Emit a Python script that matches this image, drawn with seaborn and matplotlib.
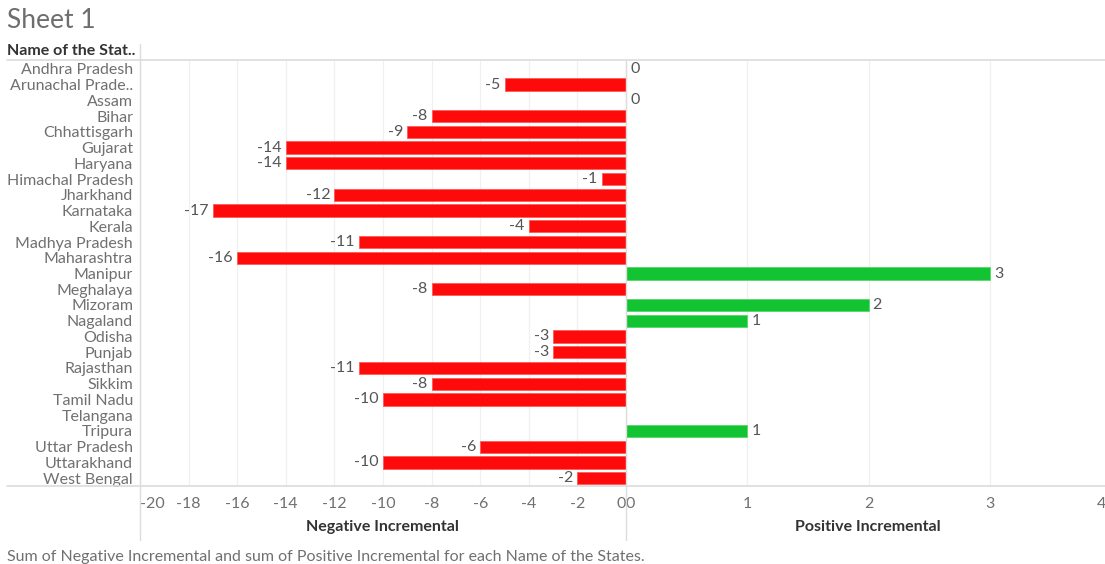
import numpy as np
import pandas as pd
import matplotlib
matplotlib.use("Agg")
import matplotlib.pyplot as plt
import seaborn as sns

states = ["Andhra Pradesh", "Arunachal Prade..", "Assam", "Bihar", "Chhattisgarh",
          "Gujarat", "Haryana", "Himachal Pradesh", "Jharkhand", "Karnataka", "Kerala",
          "Madhya Pradesh", "Maharashtra", "Manipur", "Meghalaya", "Mizoram", "Nagaland",
          "Odisha", "Punjab", "Rajasthan", "Sikkim", "Tamil Nadu", "Telangana", "Tripura",
          "Uttar Pradesh", "Uttarakhand", "West Bengal"]
nan = np.nan
negative = [nan, -5, nan, -8, -9, -14, -14, -1, -12, -17, -4, -11, -16, nan, -8, nan, nan,
            -3, -3, -11, -8, -10, nan, nan, -6, -10, -2]
positive = [0, nan, 0, nan, nan, nan, nan, nan, nan, nan, nan, nan, nan, 3, nan, 2, 1,
            nan, nan, nan, nan, nan, nan, 1, nan, nan, nan]
neg_ticks = list(range(-20, 1, 2))
pos_ticks = [0, 1, 2, 3, 4]

sns.set_theme(style="white")
FONT = ["Lato", "DejaVu Sans"]
plt.rcParams["font.family"] = FONT

W, H = 1105, 564
fig = plt.figure(figsize=(W / 100, H / 100), dpi=100)

def fx(px):
    return px / W

def fy(py):
    return 1 - py / H

top, bot = 61, 486
xl, xm, xr = 140, 626, 1111
ax1 = fig.add_axes([fx(xl), fy(bot), fx(xm - xl), fy(top) - fy(bot)])
ax2 = fig.add_axes([fx(xm), fy(bot), fx(xr - xm), fy(top) - fy(bot)])

df = pd.DataFrame({"state": states, "neg": negative, "pos": positive})
RED = "#FF0A0A"
GREEN = "#12C431"
GRID = "#F0F0F0"
LBL = "#707070"
FS = 11.5

sns.barplot(data=df, x="neg", y="state", order=states, ax=ax1, color=RED,
            width=0.78, edgecolor="#FF5A5A", linewidth=0.6, saturation=1, orient="h")
sns.barplot(data=df, x="pos", y="state", order=states, ax=ax2, color=GREEN,
            width=0.78, edgecolor="#55D86A", linewidth=0.6, saturation=1, orient="h")

n = len(states)
for ax in (ax1, ax2):
    ax.set_ylim(n - 0.5, -0.5)
    for s in ax.spines.values():
        s.set_visible(False)
    ax.set_xlabel("")
    ax.set_ylabel("")
    ax.tick_params(length=0)

ax1.set_xlim(-20, 0)
ax2.set_xlim(0, 4)
for t in neg_ticks:
    ax1.axvline(t, color=GRID, lw=0.9, zorder=0)
for t in pos_ticks:
    ax2.axvline(t, color=GRID, lw=0.9, zorder=0)

ax1.set_yticks(range(n))
ax1.set_yticklabels(states, fontsize=FS, color=LBL)
ax1.tick_params(axis="y", pad=5)
ax2.set_yticks([])

ax1.set_xticks(neg_ticks)
ax1.set_xticklabels([str(t) for t in neg_ticks], fontsize=FS, color=LBL)
# last label of the right pane is nudged inside the figure (it sits at the clipped edge)
pos_tick_pos = pos_ticks[:-1] + [pos_ticks[-1] - 0.04]
ax2.set_xticks(pos_tick_pos)
ax2.set_xticklabels([str(t) for t in pos_ticks], fontsize=FS, color=LBL)
ax1.tick_params(axis="x", pad=8)
ax2.tick_params(axis="x", pad=8)
xt1 = ax1.get_xticklabels()
xt1[0].set_ha("left")
xt1[-1].set_ha("right")
xt2 = ax2.get_xticklabels()
xt2[0].set_ha("left")
xt2[-1].set_ha("right")

# data labels
for i, v in enumerate(negative):
    if not np.isnan(v):
        ax1.annotate(f"{int(v)}", (v, i), xytext=(-3, 0), textcoords="offset points",
                     ha="right", va="center", fontsize=FS, color="#555555")
for i, v in enumerate(positive):
    if not np.isnan(v):
        ax2.annotate(f"{int(v)}", (v, i), xytext=(3, 0), textcoords="offset points",
                     ha="left", va="center", fontsize=FS, color="#555555")

# frame lines (Tableau-like)
LINE = "#DCDCDC"
fig.add_artist(plt.Line2D([fx(7), 1], [fy(60), fy(60)], color=LINE, lw=1.2))
fig.add_artist(plt.Line2D([fx(7), 1], [fy(486), fy(486)], color=LINE, lw=1.2))
fig.add_artist(plt.Line2D([fx(140), fx(140)], [fy(44), fy(540)], color=LINE, lw=1.0))
fig.add_artist(plt.Line2D([fx(626), fx(626)], [fy(61), fy(540)], color=LINE, lw=1.0))

fig.text(fx(7), fy(21), "Sheet 1", fontsize=19, color="#6E6E6E",
         va="center", ha="left")
fig.text(fx(7), fy(51), "Name of the Stat..", fontsize=FS, fontweight="bold",
         color="#333333", va="center", ha="left")
fig.text(fx(382), fy(527), "Negative Incremental", fontsize=FS, fontweight="bold",
         color="#333333", va="center", ha="center")
fig.text(fx(868), fy(527), "Positive Incremental", fontsize=FS, fontweight="bold",
         color="#333333", va="center", ha="center")
fig.text(fx(7), fy(557), "Sum of Negative Incremental and sum of Positive Incremental for each Name of the States.",
         fontsize=FS, color="#707070", va="center", ha="left")

fig.savefig("out.png", dpi=100)
